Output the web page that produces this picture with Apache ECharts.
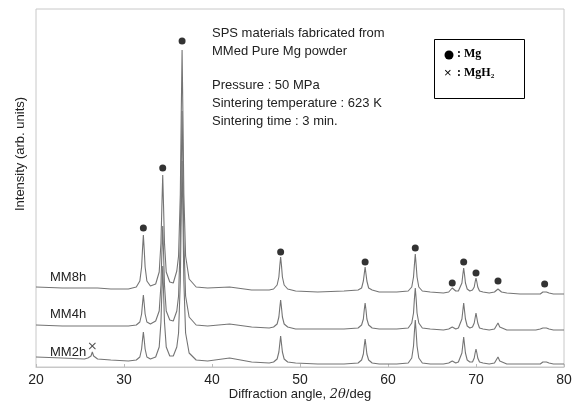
<!DOCTYPE html>
<html><head><meta charset="utf-8">
<script src="https://cdn.jsdelivr.net/npm/echarts@6/dist/echarts.min.js"></script>
<style>html,body{margin:0;padding:0;background:#fff}#c{width:580px;height:401px}</style>
</head><body><div id="c"></div>
<script>
const angles = [20,23,25.5, 25.9,26.1,26.25,26.4,26.55,26.7,27.0, 28.5,30.5,
  31.4,31.8,32.0,32.1,32.2,32.3,32.4,32.6,
  33.0,33.6,34.0,34.2,34.3,34.4,34.5,34.6,34.8,35.2,
  35.6,36.0,36.2,36.4,36.5,36.6,36.7,36.8,37.0,37.4,
  38.2,39.5,42,44.5,46.5,
  47.0,47.4,47.6,47.7,47.8,47.9,48.0,48.2,48.6,
  49.5,52,55,
  56.6,57.0,57.2,57.3,57.4,57.5,57.6,57.8,58.2,
  59,61,
  62.3,62.7,62.9,63.0,63.1,63.2,63.3,63.5,63.9,64.8,
  66.3,
  66.9,67.1,67.3,67.5,67.7,
  68.0,68.2,68.4,68.5,68.6,68.7,68.8,69.0,69.3,69.6,
  69.8,69.9,70.0,70.1,70.2,70.4,70.8,
  71.5,
  72.1,72.3,72.5,72.7,72.9,73.5,
  75,76.8,
  77.3,77.6,77.8,78.0,78.3,78.8,80];
const mm8h = [80,79,79, 79,79,79,79,79,79,79, 78,78,
  80,86,100,117,132,117,100,86,
  81,83,95,124,159,192,159,124,95,85,
  84,96,111,173,249,317,249,173,111,88,
  80,79,80,77,77,
  78,82,90,101,110,101,90,82,78,
  76,75,76,
  77,79,86,93,100,93,86,79,77,
  75,75,
  76,80,90,102,113,102,90,80,76,75,
  74,
  75,77,79,77,76,
  76,78,84,92,99,92,84,78,76,77,
  80,85,89,85,80,76,75,
  74,
  75,76,78,76,75,74,
  73,73,
  73,75,76,75,74,73,73];
const mm4h = [42,41,41, 41,41,41,41,41,41,41, 41,41,
  42,45,53,63,72,63,53,45,
  43,46,56,82,113,141,113,82,56,47,
  46,56,71,127,196,256,196,127,71,50,
  42,41,43,40,39,
  40,43,50,59,67,59,50,43,40,
  38,38,38,
  39,42,48,57,64,57,48,42,39,
  38,38,
  39,44,54,68,79,68,54,44,39,38,
  37,
  38,39,40,39,38,
  39,41,48,56,64,56,48,41,39,40,
  44,49,54,49,44,39,38,
  37,
  38,40,44,40,38,37,
  37,37,
  38,39,41,39,38,37,37];
const mm2h = [10,9,8, 9,9,11,15,11,9,8, 7,6,
  7,10,18,27,35,27,18,10,
  8,10,20,45,74,101,74,45,20,11,
  11,20,34,86,150,206,150,86,34,14,
  7,6,9,5,4,
  5,8,15,23,31,23,15,8,5,
  4,3,3,
  4,7,13,21,28,21,13,7,4,
  3,3,
  4,9,21,35,47,35,21,9,4,3,
  3,
  4,5,6,5,4,
  5,7,14,22,30,22,14,7,5,5,
  9,14,18,14,9,5,4,
  3,
  4,6,10,6,4,3,
  3,3,
  3,5,6,5,4,3,3];
const mgPeaks = [32.2,34.4,36.6,47.8,57.4,63.1,67.3,68.6,70.0,72.5,77.8];
const mgMarkY = [139,199,326,115,105,119,84,105,94,86,83];
const mgh2Peaks = [26.4];
const mgh2MarkY = [21];
const xTicks = [20,30,40,50,60,70,80];

const zip = (a,b) => a.map((v,i)=>[v,b[i]]);
const chart = echarts.init(document.getElementById('c'), null, {renderer:'canvas'});
const lineStyle = {color:'#747474', width:1.1};
const txt = '#222';
const font = '"Liberation Sans", Arial, sans-serif';
const xPath = 'path://M0,1 L1,0 L5,4 L9,0 L10,1 L6,5 L10,9 L9,10 L5,6 L1,10 L0,9 L4,5 Z';
chart.setOption({
  animation:false,
  backgroundColor:'#fff',
  grid:{left:36,right:16,top:9,bottom:34,show:true,borderColor:'#c8c8c8',borderWidth:1,
    containLabel:false,outerBoundsMode:'none'},
  xAxis:{type:'value',min:20,max:80,interval:10,
    axisLine:{show:true,lineStyle:{color:'#c8c8c8'}},
    axisTick:{show:true,inside:true,length:3,lineStyle:{color:'#bbb'}},
    splitLine:{show:false},
    axisLabel:{color:txt,fontSize:14,fontFamily:font,margin:6,
      formatter:v=>xTicks.includes(v)?String(v):''},
    name:'{a|Diffraction angle, }{b|2θ}{a|/deg}',nameLocation:'middle',nameGap:21,nameMoveOverlap:false,
    nameTextStyle:{rich:{a:{fontSize:13,color:txt,fontFamily:font},b:{fontSize:13,color:txt,fontStyle:'italic',fontFamily:'"DejaVu Serif", serif'}}}
  },
  yAxis:{type:'value',min:0,max:358,show:true,
    axisLine:{show:false},axisTick:{show:false},axisLabel:{show:false},splitLine:{show:false},
    name:'Intensity (arb. units)',nameLocation:'middle',nameGap:9,nameMoveOverlap:false,
    nameTextStyle:{fontSize:13,color:txt,fontFamily:font,padding:[0,0,0,68]}
  },
  series:[
    {type:'line',data:zip(angles,mm2h),showSymbol:false,symbol:'none',lineStyle,z:2},
    {type:'line',data:zip(angles,mm4h),showSymbol:false,symbol:'none',lineStyle,z:3},
    {type:'line',data:zip(angles,mm8h),showSymbol:false,symbol:'none',lineStyle,z:4},
    {type:'scatter',data:zip(mgPeaks,mgMarkY),symbol:'circle',symbolSize:7,itemStyle:{color:'#000'},z:5},
    {type:'scatter',data:zip(mgh2Peaks,mgh2MarkY),symbol:xPath,symbolSize:7,itemStyle:{color:'#222'},z:5}
  ],
  graphic:[
    {type:'text',left:50,top:271,style:{text:'MM8h',fontSize:13,fill:txt,fontFamily:font}},
    {type:'text',left:50,top:308,style:{text:'MM4h',fontSize:13,fill:txt,fontFamily:font}},
    {type:'text',left:50,top:346,style:{text:'MM2h',fontSize:13,fill:txt,fontFamily:font}},
    {type:'text',left:212,top:24,style:{text:'SPS materials fabricated from\nMMed Pure Mg powder',fontSize:13,lineHeight:18,fill:txt,fontFamily:font}},
    {type:'text',left:212,top:76,style:{text:'Pressure : 50 MPa\nSintering temperature : 623 K\nSintering time : 3 min.',fontSize:13,lineHeight:18,fill:txt,fontFamily:font}},
    {type:'rect',shape:{x:434.5,y:39.5,width:90,height:59},style:{fill:'#fff',stroke:'#000',lineWidth:1},z:10},
    {type:'circle',shape:{cx:449,cy:55,r:4.5},style:{fill:'#000'},z:11},
    {type:'text',x:457,y:48,style:{text:': Mg',fontSize:12,fontWeight:'bold',fill:'#000',fontFamily:'"Liberation Serif", serif'},z:11},
    {type:'text',x:444,y:67,style:{text:'×',fontSize:13,fill:'#000',fontFamily:font},z:11},
    {type:'text',x:457,y:67,style:{text:': MgH₂',fontSize:12,fontWeight:'bold',fill:'#000',fontFamily:'"Liberation Serif", serif'},z:11}
  ]
});
</script></body></html>
